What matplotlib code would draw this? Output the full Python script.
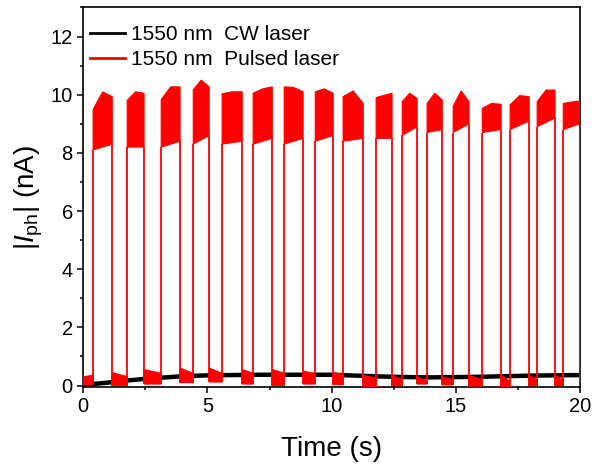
import numpy as np
import matplotlib
matplotlib.use("Agg")
import matplotlib.pyplot as plt
from matplotlib.ticker import MultipleLocator

plt.rcParams['font.family'] = ['Liberation Sans', 'DejaVu Sans']
plt.rcParams['mathtext.fontset'] = 'custom'
plt.rcParams['mathtext.rm'] = 'Liberation Sans'
plt.rcParams['mathtext.it'] = 'Liberation Sans:italic'

# pulsed laser: on-windows (s) and photocurrent envelopes (nA)
on_start = [0.40, 1.77, 3.14, 4.43, 5.59, 6.84, 8.09, 9.34, 10.46, 11.79, 12.84, 13.84, 14.89, 16.06, 17.18, 18.27, 19.32]
on_end = [1.17, 2.45, 3.90, 5.07, 6.40, 7.61, 8.85, 10.06, 11.27, 12.43, 13.44, 14.45, 15.53, 16.82, 17.95, 18.99, 20.0]
top_first = [9.49, 9.80, 9.83, 10.17, 10.03, 10.05, 10.27, 10.10, 9.93, 9.90, 9.76, 9.70, 9.60, 9.53, 9.65, 9.76, 9.70]
top_peak = [10.10, 10.10, 10.27, 10.50, 10.10, 10.20, 10.25, 10.20, 10.13, 9.98, 10.05, 10.05, 10.13, 9.70, 9.97, 10.16, 9.75]
top_last = [9.93, 10.05, 10.27, 10.27, 10.10, 10.27, 10.10, 10.05, 9.70, 10.05, 9.87, 9.82, 9.76, 9.67, 9.93, 10.16, 9.78]
low_first = [8.10, 8.20, 8.20, 8.30, 8.30, 8.30, 8.30, 8.40, 8.40, 8.50, 8.60, 8.70, 8.70, 8.70, 8.80, 8.90, 8.80]
low_last = [8.30, 8.20, 8.40, 8.60, 8.40, 8.50, 8.50, 8.60, 8.50, 8.50, 8.90, 8.80, 9.00, 8.80, 9.10, 9.20, 9.00]

# pulsed laser: dark level before each pulse
off_top_first = [0.30, 0.45, 0.55, 0.60, 0.60, 0.55, 0.55, 0.50, 0.45, 0.35, 0.35, 0.30, 0.30, 0.35, 0.35, 0.35, 0.35]
off_top_last = [0.35, 0.30, 0.42, 0.42, 0.42, 0.42, 0.42, 0.40, 0.38, 0.25, 0.20, 0.15, 0.20, 0.20, 0.15, 0.20, 0.20]
off_bottom = [0.02, 0.00, 0.05, 0.10, 0.12, 0.05, 0.00, 0.05, 0.03, -0.04, 0.00, 0.05, 0.02, -0.02, -0.04, 0.00, 0.00]

# CW laser
cw_t = [0, 0.5, 1, 1.5, 2, 2.5, 3, 3.5, 4, 5, 6, 7, 8, 9, 10, 11, 12, 13, 14, 15, 16, 17, 18, 19, 20]
cw_i = [0.03, 0.06, 0.10, 0.15, 0.19, 0.23, 0.26, 0.29, 0.32, 0.35, 0.36, 0.37, 0.37, 0.37, 0.37, 0.34, 0.31, 0.29, 0.28, 0.29, 0.30, 0.32, 0.34, 0.35, 0.36]

red = '#ff0000'
fig, ax = plt.subplots(figsize=(5.92, 4.67), dpi=100)
fig.subplots_adjust(left=0.1405, right=0.98, bottom=0.172, top=0.984)

ax.plot(cw_t, cw_i, color='black', lw=3.2, solid_capstyle='butt', zorder=2)

off_begin = [0.0] + on_end[:-1]
for k in range(len(on_start)):
    # dark period band
    ax.fill([off_begin[k], off_begin[k], on_start[k], on_start[k]],
            [off_bottom[k], off_top_first[k], off_top_last[k], off_bottom[k]],
            color=red, lw=0.8, zorder=3)
    # illuminated period band
    mid = (on_start[k] + on_end[k]) / 2
    ax.fill([on_start[k], on_start[k], mid, on_end[k], on_end[k]],
            [low_first[k], top_first[k], top_peak[k], top_last[k], low_last[k]],
            color=red, lw=0.8, zorder=3)
    ax.vlines(on_start[k], off_bottom[k], low_first[k], color=red, lw=1.3, zorder=3)
    nxt = off_bottom[k + 1] if k + 1 < len(on_start) else 0.0
    ax.vlines(on_end[k], nxt, low_last[k], color=red, lw=1.3, zorder=3)

ax.plot([], [], color='black', lw=2, label='1550 nm  CW laser')
ax.plot([], [], color=red, lw=2, label='1550 nm  Pulsed laser')
ax.legend(loc='upper left', frameon=False, fontsize=15, handlelength=1.7,
          handletextpad=0.3, labelspacing=0.3, borderpad=0.2, borderaxespad=0.45,
          bbox_to_anchor=(-0.014, 0.99))

ax.set_xlim(0, 20)
ax.set_ylim(-0.04, 13)
ax.xaxis.set_major_locator(MultipleLocator(5))
ax.xaxis.set_minor_locator(MultipleLocator(2.5))
ax.yaxis.set_major_locator(MultipleLocator(2))
ax.yaxis.set_minor_locator(MultipleLocator(1))
ax.tick_params(which='major', direction='out', length=4.5, width=1.1, labelsize=14.5, pad=3)
ax.tick_params(which='minor', direction='out', length=2.5, width=1.1)
for s in ax.spines.values():
    s.set_linewidth(1.2)

ax.set_xlabel('Time (s)', fontsize=20, labelpad=14)
ax.set_ylabel(r'|$I_{\rm ph}$| (nA)', fontsize=20, labelpad=4)

fig.savefig('out.png', dpi=100)
